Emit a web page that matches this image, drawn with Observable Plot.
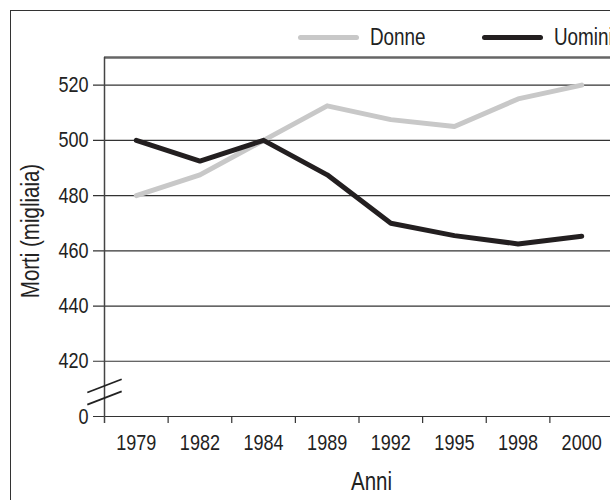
<!DOCTYPE html>
<html>
<head>
<meta charset="utf-8">
<script src="https://cdn.jsdelivr.net/npm/d3@7"></script>
<script src="https://cdn.jsdelivr.net/npm/@observablehq/plot@0.6"></script>
<style>
  html, body { margin: 0; padding: 0; background: #fff; }
  #wrap { position: relative; width: 610px; height: 500px; overflow: hidden; font-family: "Liberation Sans", Arial, sans-serif; color: #222; }
  #frame { position: absolute; left: 10px; top: 10px; width: 700px; height: 600px; border: 1.5px solid #333; pointer-events: none; }
  .leg { position: absolute; top: 22px; height: 30px; display: flex; align-items: center; font-size: 23px; }
  .leg .sw { width: 61px; height: 5px; border-radius: 3px; margin-right: 11px; flex: none; }
  .leg .lb { display: inline-block; transform: scaleX(0.82); transform-origin: left center; white-space: nowrap; }
  #chart { position: absolute; left: 0; top: 0; }
</style>
</head>
<body>
<div id="wrap">
  <div id="chart"></div>
  <div id="frame"></div>
  <div class="leg" id="leg0" style="left:298px"><span class="sw"></span><span class="lb"></span></div>
  <div class="leg" id="leg1" style="left:482px"><span class="sw"></span><span class="lb"></span></div>
</div>
<script>
// ---- data ----
const years = ["1979", "1982", "1984", "1989", "1992", "1995", "1998", "2000"];
const donne = [480, 487.5, 500, 512.5, 507.5, 505, 515, 520];
const uomini = [500, 492.5, 500, 487.5, 470, 465.5, 462.5, 465.3];
const seriesNames = ["Donne", "Uomini"];
const seriesColors = ["#c8c8c8", "#231f20"];
const yTicks = [400, 420, 440, 460, 480, 500, 520];
const yTickLabels = ["0", "420", "440", "460", "480", "500", "520"];
const yTop = 530;
const xTitle = "Anni";
const yTitle = "Morti (migliaia)";

const rows = [];
[donne, uomini].forEach((vals, s) => vals.forEach((v, i) => rows.push({series: seriesNames[s], i: i + 0.5, year: years[i], value: v})));

const font = '"Liberation Sans", Arial, sans-serif';
const narrow = 0.82; // condensed look

const chart = Plot.plot({
  width: 610,
  height: 500,
  marginLeft: 104,
  marginRight: 0,
  marginTop: 57,
  marginBottom: 84,
  style: {fontFamily: font, fontSize: "22px", background: "transparent", color: "#222", overflow: "visible"},
  x: {type: "linear", domain: [0, years.length], range: [104, 613], axis: null},
  y: {type: "linear", domain: [yTicks[0], yTop], axis: null},
  marks: [
    Plot.ruleY(yTicks, {stroke: "#333", strokeWidth: 1.2, insetLeft: -11}),
    Plot.ruleY([yTop], {stroke: "#666", strokeWidth: 2.5}),
    Plot.ruleX([0], {stroke: "#444", strokeWidth: 1.5, insetBottom: -7}),
    Plot.ruleX(d3.range(1, years.length), {y1: yTicks[0], y2: yTicks[0], insetBottom: -7, stroke: "#333", strokeWidth: 1.2}),
    Plot.text(years, {x: (d, i) => i + 0.5, y: yTicks[0], text: d => d, dy: 26, lineAnchor: "middle", fill: "#222"}),
    Plot.text(yTicks, {x: 0, y: d => d, text: (d, i) => yTickLabels[i], textAnchor: "end", dx: -16, lineAnchor: "middle", fill: "#222"}),
    Plot.link([408.7, 404.3], {x1: -0.27, x2: 0.27, y1: d => d, y2: d => d + 4.8, stroke: "#222", strokeWidth: 1.8}),
    Plot.line(rows.filter(r => r.series === "Donne"), {x: "i", y: "value", stroke: seriesColors[0], strokeWidth: 5, strokeLinejoin: "round"}),
    Plot.line(rows.filter(r => r.series === "Uomini"), {x: "i", y: "value", stroke: seriesColors[1], strokeWidth: 5, strokeLinejoin: "round"}),
    Plot.text([xTitle], {frameAnchor: "bottom", textAnchor: "middle", dx: 14, dy: 65, lineAnchor: "middle", fontSize: 25, fill: "#222"}),
    Plot.text([yTitle], {frameAnchor: "left", textAnchor: "middle", dx: -74, dy: -6, rotate: -90, lineAnchor: "middle", fontSize: 25, fill: "#222"})
  ]
});

// condense glyphs horizontally around each text's anchor point (local x)
chart.querySelectorAll("text").forEach(t => {
  const xa = t.getAttribute("x");
  const x = xa && /^-?[\d.]+$/.test(xa) ? +xa : 0;
  const tr = t.getAttribute("transform") || "";
  t.setAttribute("transform", `${tr} translate(${x},0) scale(${narrow},1) translate(${-x},0)`.trim());
});
document.getElementById("chart").appendChild(chart);

seriesNames.forEach((name, s) => {
  const el = document.getElementById("leg" + s);
  el.querySelector(".sw").style.background = seriesColors[s];
  el.querySelector(".lb").textContent = name;
});
</script>
</body>
</html>
